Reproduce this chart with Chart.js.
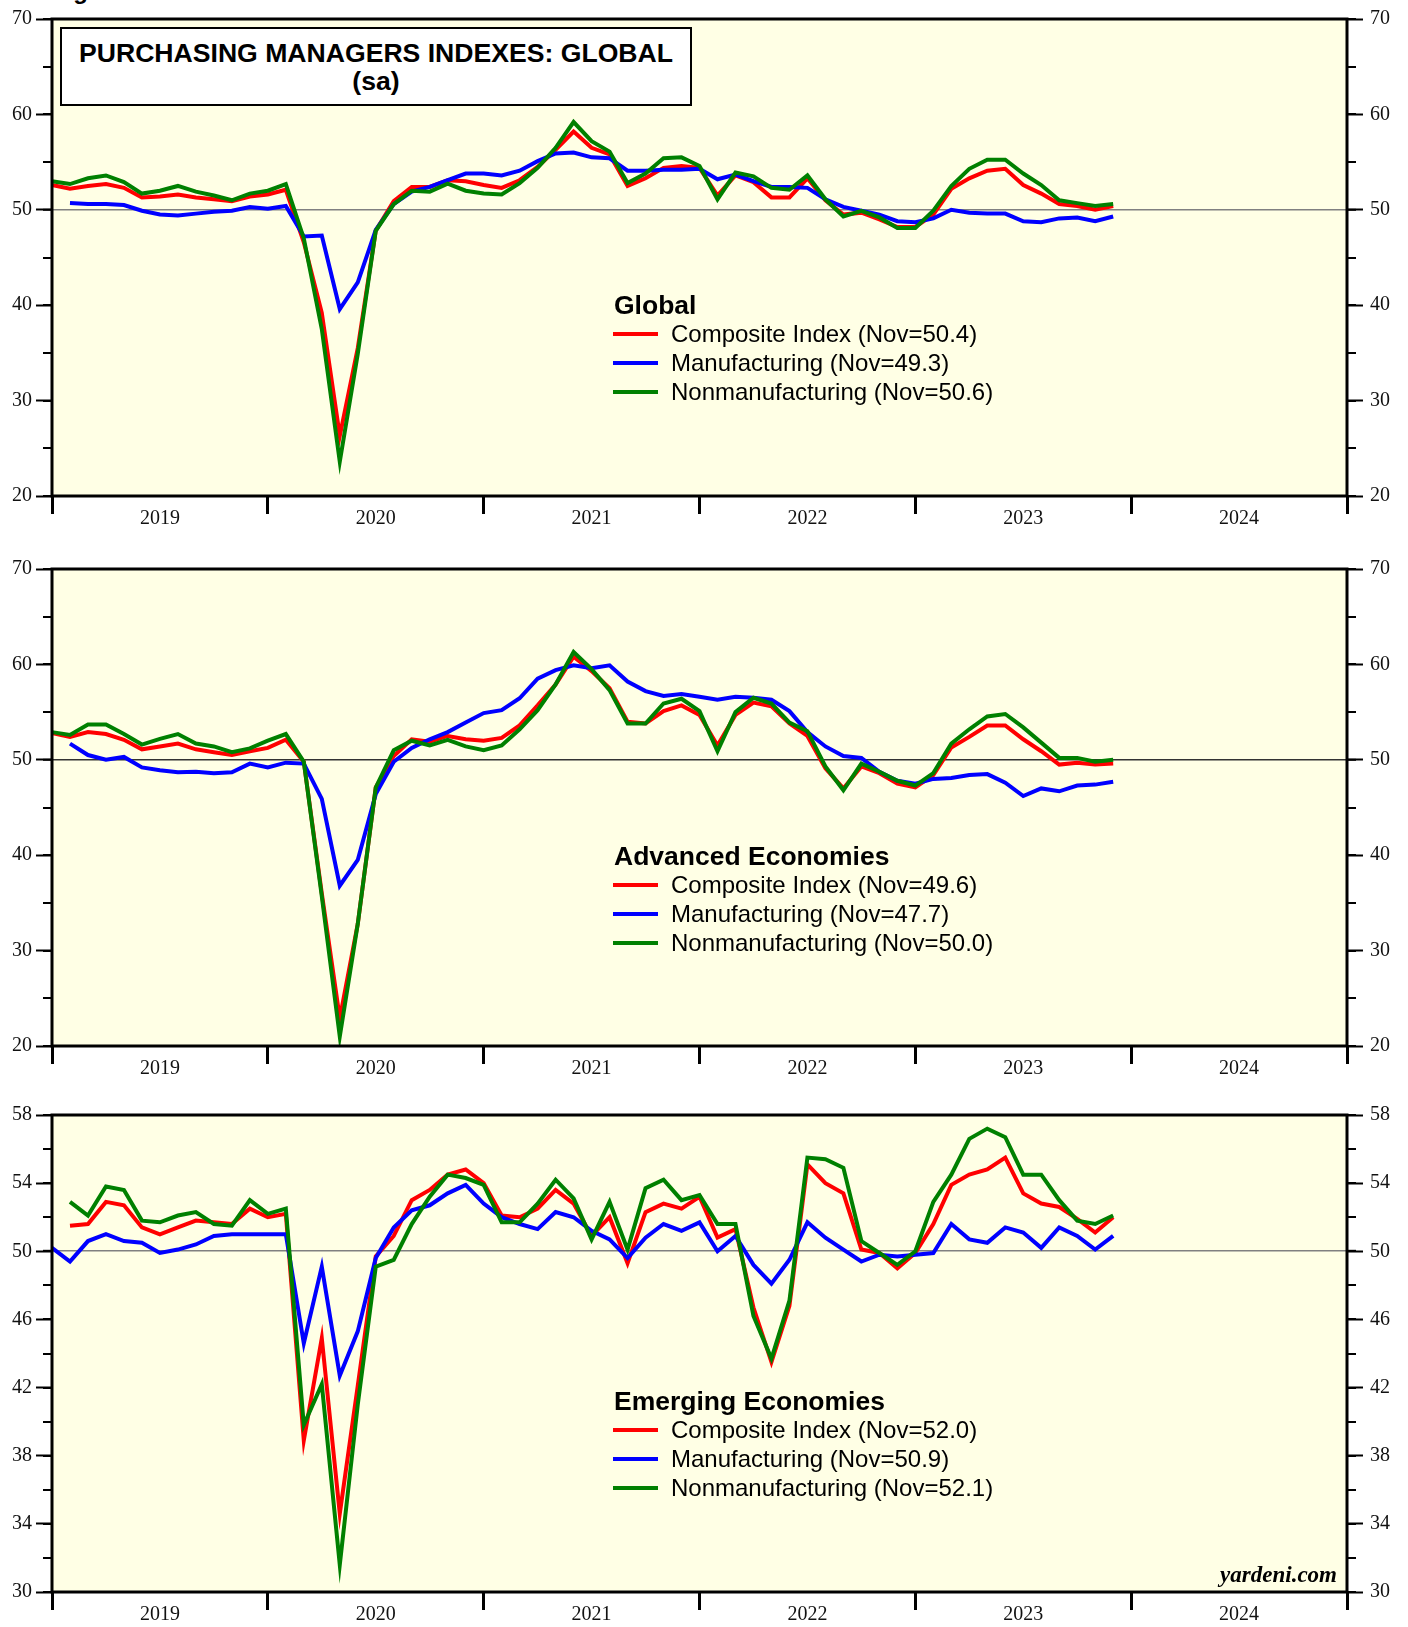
<!DOCTYPE html>
<html>
<head>
<meta charset="utf-8">
<title>Purchasing Managers Indexes: Global</title>
<script src="https://cdn.jsdelivr.net/npm/chart.js@4.4.1/dist/chart.umd.min.js"></script>
<style>
  body { margin: 0; background: #fff; width: 1408px; height: 1627px; position: relative; overflow: hidden;
         font-family: Arial, "Liberation Sans", Helvetica, sans-serif; color: #000; }
  canvas { position: absolute; left: 0; }
  .fig { position: absolute; left: 52px; top: -21px; font-weight: bold; font-size: 24px; line-height: 24px; }
  .titlebox { position: absolute; left: 60px; top: 27px; width: 632px; height: 79px; box-sizing: border-box;
              border: 2px solid #000; background: #fff; text-align: center; font-weight: bold;
              font-size: 26.6px; line-height: 28px; padding-top: 9.5px; }
  .legend { position: absolute; left: 613px; }
  .legend .head { font-weight: bold; font-size: 26.5px; line-height: 26.5px; padding-left: 1px; }
  .legend .row { display: flex; align-items: center; height: 29px; font-size: 24px; }
  .legend .sw { width: 45px; height: 4px; margin-right: 13px; }
  .credit { position: absolute; right: 71px; top: 1563px; font-family: "Liberation Serif", "Times New Roman", serif;
            font-weight: bold; font-style: italic; font-size: 23px; line-height: 23px; }
</style>
</head>
<body>

<div class="fig">Figure 1.</div>

<canvas id="cGlobal" width="1408" height="550" style="top:0px"></canvas>
<canvas id="cAdvanced" width="1408" height="546" style="top:550px"></canvas>
<canvas id="cEmerging" width="1408" height="531" style="top:1096px"></canvas>

<div class="titlebox">PURCHASING MANAGERS INDEXES: GLOBAL<br>(sa)</div>

<div class="legend" style="top:291.5px">
  <div class="head">Global</div>
  <div class="row" style="margin-top:1.5px"><span class="sw" style="background:#ff0000"></span>Composite Index (Nov=50.4)</div>
  <div class="row"><span class="sw" style="background:#0000ff"></span>Manufacturing (Nov=49.3)</div>
  <div class="row"><span class="sw" style="background:#008000"></span>Nonmanufacturing (Nov=50.6)</div>
</div>

<div class="legend" style="top:842.5px">
  <div class="head">Advanced Economies</div>
  <div class="row" style="margin-top:1px"><span class="sw" style="background:#ff0000"></span>Composite Index (Nov=49.6)</div>
  <div class="row"><span class="sw" style="background:#0000ff"></span>Manufacturing (Nov=47.7)</div>
  <div class="row"><span class="sw" style="background:#008000"></span>Nonmanufacturing (Nov=50.0)</div>
</div>

<div class="legend" style="top:1388px">
  <div class="head">Emerging Economies</div>
  <div class="row" style="margin-top:1px"><span class="sw" style="background:#ff0000"></span>Composite Index (Nov=52.0)</div>
  <div class="row"><span class="sw" style="background:#0000ff"></span>Manufacturing (Nov=50.9)</div>
  <div class="row"><span class="sw" style="background:#008000"></span>Nonmanufacturing (Nov=52.1)</div>
</div>

<div class="credit">yardeni.com</div>

<script>
// ---- categories: month-end points, Dec 2018 .. Dec 2024 ----
const monthNames = ["Jan","Feb","Mar","Apr","May","Jun","Jul","Aug","Sep","Oct","Nov","Dec"];
const yearLabels = ["2019", "2020", "2021", "2022", "2023", "2024"];
const monthLabels = ["Dec 2018"];
yearLabels.forEach(y => monthNames.forEach(m => monthLabels.push(m + " " + y)));

// ---- Global (Dec 2018 .. Nov 2023) ----
const globalComposite = [52.6, 52.2, 52.5, 52.7, 52.3, 51.3, 51.4, 51.6, 51.3, 51.1,
  50.9, 51.4, 51.6, 52.1, 46.6, 39.2, 26.3, 35.5, 47.8, 50.9,
  52.4, 52.4, 53.1, 53.0, 52.6, 52.3, 53.1, 54.5, 56.3, 58.2,
  56.5, 55.8, 52.5, 53.3, 54.4, 54.6, 54.4, 51.5, 53.6, 52.9,
  51.3, 51.3, 53.3, 51.0, 49.5, 49.7, 49.0, 48.2, 48.2, 49.5,
  52.2, 53.3, 54.1, 54.3, 52.6, 51.7, 50.6, 50.4, 50.0, 50.4];
const globalManufacturing = [null, 50.7, 50.6, 50.6, 50.5, 49.9, 49.5, 49.4, 49.6, 49.8,
  49.9, 50.3, 50.1, 50.4, 47.2, 47.3, 39.6, 42.4, 47.9, 50.6,
  51.9, 52.4, 53.1, 53.8, 53.8, 53.6, 54.1, 55.1, 55.9, 56.0,
  55.5, 55.4, 54.1, 54.1, 54.2, 54.2, 54.3, 53.2, 53.7, 53.0,
  52.4, 52.4, 52.3, 51.1, 50.3, 49.9, 49.5, 48.8, 48.7, 49.1,
  50.0, 49.7, 49.6, 49.6, 48.8, 48.7, 49.1, 49.2, 48.8, 49.3];
const globalNonmanufacturing = [53.0, 52.7, 53.3, 53.6, 52.9, 51.7, 52.0, 52.5, 51.9, 51.5,
  51.0, 51.7, 52.0, 52.7, 47.0, 37.5, 23.6, 34.9, 47.8, 50.6,
  52.0, 51.9, 52.75, 52.0, 51.7, 51.6, 52.8, 54.4, 56.5, 59.2,
  57.2, 56.1, 52.8, 53.8, 55.4, 55.5, 54.6, 51.1, 53.9, 53.5,
  52.3, 52.1, 53.6, 51.1, 49.3, 49.9, 49.2, 48.1, 48.1, 49.9,
  52.5, 54.3, 55.25, 55.25, 53.8, 52.6, 51.0, 50.7, 50.4, 50.6];

// ---- Advanced economies ----
const advComposite = [52.8, 52.4, 52.9, 52.7, 52.1, 51.1, 51.4, 51.7, 51.1, 50.8,
  50.5, 50.9, 51.25, 52.1, 49.8, 36.0, 22.9, 32.8, 47.1, 50.4,
  52.15, 51.9, 52.5, 52.15, 52.0, 52.3, 53.6, 55.7, 57.9, 60.8,
  59.3, 57.5, 54.0, 53.8, 55.1, 55.7, 54.7, 51.5, 54.7, 56.0,
  55.6, 53.8, 52.5, 49.1, 47.0, 49.3, 48.6, 47.5, 47.1, 48.4,
  51.3, 52.4, 53.6, 53.6, 52.15, 50.9, 49.5, 49.7, 49.5, 49.6];
const advManufacturing = [null, 51.7, 50.5, 50.0, 50.3, 49.2, 48.9, 48.7, 48.75, 48.6,
  48.7, 49.6, 49.2, 49.7, 49.6, 45.9, 36.8, 39.5, 46.4, 49.8,
  51.25, 52.15, 52.9, 53.9, 54.9, 55.2, 56.45, 58.5, 59.4, 59.9,
  59.6, 59.9, 58.2, 57.2, 56.7, 56.9, 56.6, 56.3, 56.6, 56.5,
  56.3, 55.1, 52.9, 51.4, 50.4, 50.2, 48.75, 47.8, 47.5, 48.0,
  48.1, 48.4, 48.5, 47.6, 46.2, 47.0, 46.7, 47.3, 47.4, 47.7];
const advNonmanufacturing = [52.9, 52.6, 53.7, 53.7, 52.7, 51.6, 52.2, 52.7, 51.7, 51.4,
  50.8, 51.2, 52.0, 52.7, 49.8, 35.7, 21.0, 32.8, 47.1, 51.0,
  52.0, 51.5, 52.1, 51.4, 51.0, 51.5, 53.2, 55.2, 57.9, 61.3,
  59.5, 57.3, 53.8, 53.8, 55.9, 56.4, 55.1, 50.9, 55.0, 56.5,
  55.9, 53.9, 53.0, 49.3, 46.8, 49.6, 48.75, 47.8, 47.3, 48.6,
  51.7, 53.2, 54.55, 54.8, 53.4, 51.8, 50.2, 50.2, 49.8, 50.0];

// ---- Emerging economies ----
const emComposite = [null, 51.5, 51.6, 52.9, 52.7, 51.4, 51.0, 51.4, 51.8, 51.7,
  51.6, 52.5, 52.0, 52.2, 38.9, 44.9, 34.6, 42.1, 49.7, 50.9,
  53.0, 53.6, 54.5, 54.8, 54.0, 52.1, 52.0, 52.5, 53.6, 52.8,
  50.9, 52.0, 49.3, 52.3, 52.8, 52.5, 53.2, 50.8, 51.3, 46.7,
  43.5, 46.8, 55.1, 54.0, 53.4, 50.1, 49.9, 49.0, 49.9, 51.6,
  53.9, 54.5, 54.8, 55.5, 53.4, 52.8, 52.6, 51.9, 51.1, 52.0];
const emManufacturing = [50.2, 49.4, 50.6, 51.0, 50.6, 50.5, 49.9, 50.1, 50.4, 50.9,
  51.0, 51.0, 51.0, 51.0, 44.6, 49.1, 42.7, 45.3, 49.6, 51.4,
  52.4, 52.7, 53.4, 53.9, 52.8, 52.0, 51.6, 51.3, 52.3, 52.0,
  51.2, 50.7, 49.6, 50.8, 51.6, 51.2, 51.7, 50.0, 50.9, 49.2,
  48.1, 49.5, 51.7, 50.8, 50.1, 49.4, 49.8, 49.7, 49.8, 49.9,
  51.6, 50.7, 50.5, 51.4, 51.1, 50.2, 51.4, 50.9, 50.1, 50.9];
const emNonmanufacturing = [null, 52.9, 52.1, 53.8, 53.6, 51.8, 51.7, 52.1, 52.3, 51.6,
  51.5, 53.0, 52.2, 52.5, 39.8, 42.2, 31.6, 41.0, 49.1, 49.5,
  51.6, 53.2, 54.5, 54.3, 53.9, 51.7, 51.7, 52.8, 54.2, 53.1,
  50.7, 52.9, 50.1, 53.7, 54.2, 53.0, 53.3, 51.6, 51.6, 46.2,
  43.7, 47.1, 55.5, 55.4, 54.9, 50.6, 49.9, 49.2, 50.0, 52.9,
  54.5, 56.6, 57.2, 56.7, 54.5, 54.5, 53.0, 51.8, 51.6, 52.1];

// plot background and heavy frame round the plot area
const framePlugin = {
  id: "frame",
  beforeDraw(chart) {
    const { ctx, chartArea: a } = chart;
    ctx.save();
    ctx.fillStyle = "#ffffe5";
    ctx.fillRect(a.left, a.top, a.right - a.left, a.bottom - a.top);
    ctx.restore();
  },
  afterDraw(chart) {
    const { ctx, chartArea: a } = chart;
    ctx.save();
    ctx.strokeStyle = "#000";
    ctx.lineWidth = 3;
    ctx.strokeRect(a.left, a.top, a.right - a.left, a.bottom - a.top);
    ctx.restore();
  }
};

const serif = { family: "'Liberation Serif', 'Times New Roman', serif", size: 20 };
const PLOT_H = 480;

function yAxes(min, max, majorStep, minorStep, midColor) {
  const major = (pos) => ({
    position: pos, min: min, max: max, weight: 1,
    border: { display: false },
    grid: { drawOnChartArea: false, tickLength: 16, tickWidth: 2, tickColor: "#000" },
    ticks: { stepSize: majorStep, font: serif, color: "#111", padding: pos === "left" ? 4 : 7 },
    afterFit(s) { s.width = pos === "left" ? 52 : 61; }
  });
  const minor = (pos, drawMid) => ({
    position: pos, min: min, max: max, weight: 0,
    border: { display: false },
    grid: {
      drawOnChartArea: drawMid,
      color: (c) => (c.tick && c.tick.value === 50 ? midColor : "rgba(0,0,0,0)"),
      lineWidth: (c) => (c.tick && c.tick.value === 50 ? 1.6 : 0),
      tickLength: 9, tickWidth: 2, tickColor: "#000"
    },
    ticks: { stepSize: minorStep, display: false },
    afterFit(s) { s.width = 0; }
  });
  return { y: major("left"), yMinL: minor("left", true), yR: major("right"), yMinR: minor("right", false) };
}

function makePanel(id, comp, manu, nonm, yMin, yMax, majorStep, minorStep, midColor) {
  const canvas = document.getElementById(id);
  const xHeight = canvas.height - 16 - PLOT_H;
  const scales = yAxes(yMin, yMax, majorStep, minorStep, midColor);
  scales.x = {
    type: "category", offset: false,
    border: { display: false },
    grid: {
      drawOnChartArea: false, tickLength: 18, tickColor: "#000",
      tickWidth: (c) => (c.index % 12 === 0 ? 3 : 0)
    },
    ticks: {
      autoSkip: false, maxRotation: 0, minRotation: 0, font: serif, color: "#111", padding: -7,
      callback: (v, i) => (i % 12 === 6 ? yearLabels[(i - 6) / 12] : "")
    },
    afterFit(s) { s.height = xHeight; }
  };
  return new Chart(canvas, {
    type: "line",
    data: {
      labels: monthLabels,
      datasets: [
        { label: "Composite Index", data: comp, borderColor: "#ff0000", order: 3 },
        { label: "Manufacturing", data: manu, borderColor: "#0000ff", order: 2 },
        { label: "Nonmanufacturing", data: nonm, borderColor: "#008000", order: 1 }
      ]
    },
    options: {
      responsive: false,
      animation: false,
      layout: { padding: { top: 16, left: 0, right: 0, bottom: 0 } },
      elements: { point: { radius: 0 }, line: { borderWidth: 4, tension: 0 } },
      plugins: { legend: { display: false }, tooltip: { enabled: false } },
      scales: scales
    },
    plugins: [framePlugin]
  });
}

makePanel("cGlobal", globalComposite, globalManufacturing, globalNonmanufacturing, 20, 70, 10, 5, "#808080");
makePanel("cAdvanced", advComposite, advManufacturing, advNonmanufacturing, 20, 70, 10, 5, "#333333");
makePanel("cEmerging", emComposite, emManufacturing, emNonmanufacturing, 30, 58, 4, 2, "#808080");
</script>
</body>
</html>
